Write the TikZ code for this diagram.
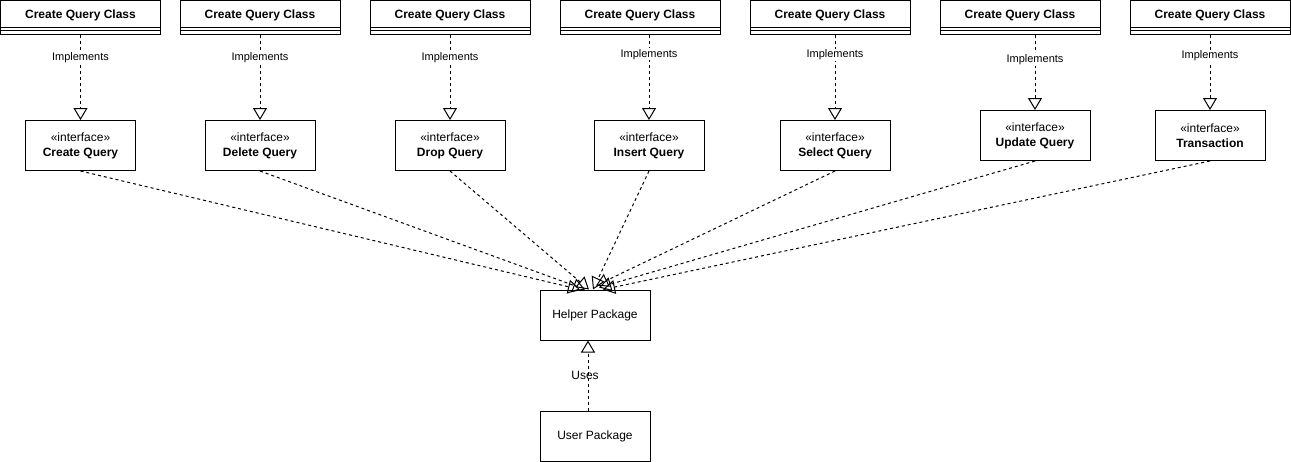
\documentclass[tikz,border=0pt]{standalone}
\usepackage{fontspec}
\setmainfont{Liberation Sans}
\usetikzlibrary{positioning,arrows.meta}

\begin{document}
\begin{tikzpicture}
  [x=1pt, y=-1pt,
   every path/.style={line width=1pt},
   classbox/.style={
     draw,
     minimum width=160pt,
     inner sep=0pt,
     text height=18pt,
     text depth=16pt,
     font=\fontsize{12}{14}\selectfont\bfseries,
     path picture={
       \draw ([yshift=-27pt]path picture bounding box.north west) -- ([yshift=-27pt]path picture bounding box.north east);
       \draw ([yshift=-30.5pt]path picture bounding box.north west) -- ([yshift=-30.5pt]path picture bounding box.north east);
     }
   },
   iface/.style={
     draw,
     minimum width=110pt,
     minimum height=50pt,
     align=center,
     font=\fontsize{12}{15}\selectfont
   },
   package/.style={
     draw,
     minimum width=110pt,
     minimum height=50pt,
     font=\fontsize{12}{14}\selectfont
   },
   realize/.style={
     dash pattern=on 3pt off 3pt,
     -{Triangle[open,length=12pt,width=14pt]}
   },
   lbl/.style={
     fill=white,
     inner sep=1pt,
     pos=0.27,
     font=\fontsize{11}{13}\selectfont
   }
  ]
  \useasboundingbox (0,0) rectangle (1291,461);

  % CLASSES
  \node [classbox] (createcls) at (80.5,17) {Create Query Class};
  \node [classbox] (deletecls) at (260,17) {Create Query Class};
  \node [classbox] (dropcls)   at (450,17) {Create Query Class};
  \node [classbox] (insertcls) at (640,17) {Create Query Class};
  \node [classbox] (selectcls) at (830,17) {Create Query Class};
  \node [classbox] (updatecls) at (1020,17) {Create Query Class};
  \node [classbox] (transcls)  at (1210,17) {Create Query Class};

  % INTERFACES
  \node [iface, below=85.5pt of createcls] (createq)
    {«interface»\\\textbf{Create Query}};
  \node [iface, below=85.5pt of deletecls] (deleteq)
    {«interface»\\\textbf{Delete Query}};
  \node [iface, below=85.5pt of dropcls] (dropq)
    {«interface»\\\textbf{Drop Query}};
  \node [iface, below=85.5pt of insertcls, xshift=9pt] (insertq)
    {«interface»\\\textbf{Insert Query}};
  \node [iface, below=85.5pt of selectcls, xshift=5pt] (selectq)
    {«interface»\\\textbf{Select Query}};
  \node [iface, below=75.5pt of updatecls, xshift=15pt] (updateq)
    {«interface»\\\textbf{Update Query}};
  \node [iface, below=75.5pt of transcls] (transq)
    {«interface»\\\textbf{Transaction}};

  % PACKAGES
  \node [package] (helper) at (595,315) {Helper Package};
  \node [package, below=70pt of helper] (user) {User Package};

  % implements
  \draw[realize] (createcls.south -| createq.north) -- node[lbl] {Implements} (createq.north);
  \draw[realize] (deletecls.south -| deleteq.north) -- node[lbl] {Implements} (deleteq.north);
  \draw[realize] (dropcls.south -| dropq.north) -- node[lbl] {Implements} (dropq.north);
  \draw[realize] (insertcls.south -| insertq.north) -- node[lbl, pos=0.23] {Implements} (insertq.north);
  \draw[realize] (selectcls.south -| selectq.north) -- node[lbl, pos=0.24] {Implements} (selectq.north);
  \draw[realize] (updatecls.south -| updateq.north) -- node[lbl, pos=0.33] {Implements} (updateq.north);
  \draw[realize] (transcls.south -| transq.north) -- node[lbl, pos=0.28] {Implements} (transq.north);

  % to the helper package
  \draw[realize] (createq.south) -- ([xshift=-15pt]helper.north);
  \draw[realize] (deleteq.south) -- ([xshift=-10pt]helper.north);
  \draw[realize] (dropq.south) -- ([xshift=-6pt]helper.north);
  \draw[realize] (insertq.south) -- ([xshift=-2pt]helper.north);
  \draw[realize] (selectq.south) -- ([xshift=1pt,yshift=4pt]helper.north);
  \draw[realize] (updateq.south) -- ([xshift=4pt,yshift=2pt]helper.north);
  \draw[realize] (transq.south) -- ([xshift=8pt]helper.north);

  \draw[realize] ([xshift=-7pt]user.north) -- node[xshift=-3pt, font=\fontsize{12}{14}\selectfont] {Uses} ([xshift=-7pt]helper.south);
\end{tikzpicture}
\end{document}
